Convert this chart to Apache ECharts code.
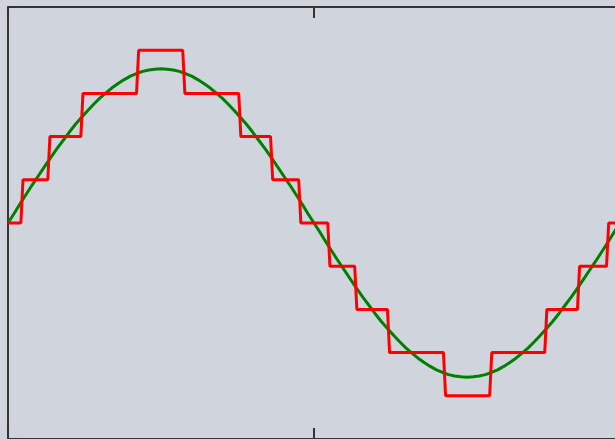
<!DOCTYPE html>
<html>
<head>
<meta charset="utf-8">
<script src="https://cdn.jsdelivr.net/npm/echarts@6/dist/echarts.min.js"></script>
<style>
  html, body { margin: 0; padding: 0; background: #d0d4dc; }
  #chart { width: 615px; height: 439px; }
</style>
</head>
<body>
<div id="chart"></div>
<script>
// Analog signal, sampled every 2 units over one full period (x = 0 .. 200)
const sampleStep = 2;
const analogY = [
  0.00, 0.22, 0.45, 0.67, 0.89, 1.10, 1.31, 1.52, 1.72, 1.91,
  2.10, 2.28, 2.44, 2.60, 2.75, 2.89, 3.01, 3.13, 3.23, 3.32,
  3.40, 3.46, 3.51, 3.54, 3.56, 3.57, 3.56, 3.54, 3.51, 3.46,
  3.40, 3.32, 3.23, 3.13, 3.01, 2.89, 2.75, 2.60, 2.44, 2.28,
  2.10, 1.91, 1.72, 1.52, 1.31, 1.10, 0.89, 0.67, 0.45, 0.22,
  0.00, -0.22, -0.45, -0.67, -0.89, -1.10, -1.31, -1.52, -1.72, -1.91,
  -2.10, -2.28, -2.44, -2.60, -2.75, -2.89, -3.01, -3.13, -3.23, -3.32,
  -3.40, -3.46, -3.51, -3.54, -3.56, -3.57, -3.56, -3.54, -3.51, -3.46,
  -3.40, -3.32, -3.23, -3.13, -3.01, -2.89, -2.75, -2.60, -2.44, -2.28,
  -2.10, -1.91, -1.72, -1.52, -1.31, -1.10, -0.89, -0.67, -0.45, -0.22,
  0.00
];

// Quantized signal: x where each level change begins, and the level after it
const stepX = [4.2, 13.0, 23.8, 42.0, 57.1, 75.4, 85.8, 95.0,
               104.5, 113.3, 124.0, 142.3, 157.4, 175.4, 186.1, 195.6];
const stepLevel = [1, 2, 3, 4, 3, 2, 1, 0, -1, -2, -3, -4, -3, -2, -1, 0];
const startLevel = 0;

// Axis ranges and tick spacing
const xMin = 0, xMax = 200, xTick = 100;
const yMin = -5, yMax = 5, yTick = 5;

const analogData = analogY.map((v, i) => [i * sampleStep, v]);

// Each change is drawn over one short sample interval
const edge = 0.7;
const quantData = [[xMin, startLevel]];
let prev = startLevel;
stepX.forEach((x, i) => {
  quantData.push([x, prev]);
  quantData.push([x + edge, stepLevel[i]]);
  prev = stepLevel[i];
});
quantData.push([xMax, prev]);

const tickStyle = { show: true, inside: true, length: 11, lineStyle: { color: '#333', width: 2 } };
const lineStyleAx = { show: true, onZero: false, lineStyle: { color: '#000', width: 1.5 } };

function xAx(pos) {
  return {
    type: 'value', position: pos, min: xMin, max: xMax, interval: xTick,
    axisLine: lineStyleAx, axisTick: tickStyle,
    axisLabel: { show: false }, splitLine: { show: false }
  };
}
function yAx(pos) {
  return {
    type: 'value', position: pos, min: yMin, max: yMax, interval: yTick,
    axisLine: lineStyleAx, axisTick: tickStyle,
    axisLabel: { show: false }, splitLine: { show: false }
  };
}

const chart = echarts.init(document.getElementById('chart'), null, { renderer: 'canvas' });
chart.setOption({
  animation: false,
  backgroundColor: '#d0d4dc',
  grid: {
    left: 8, top: 7, width: 612, height: 432,
    containLabel: false, outerBoundsMode: 'none'
  },
  xAxis: [xAx('bottom'), xAx('top')],
  yAxis: [yAx('left'), yAx('right')],
  series: [
    {
      type: 'line', data: analogData, xAxisIndex: 0, yAxisIndex: 0,
      showSymbol: false, smooth: false,
      lineStyle: { color: '#008000', width: 3 }
    },
    {
      type: 'line', data: quantData, xAxisIndex: 0, yAxisIndex: 0,
      showSymbol: false,
      lineStyle: { color: '#ff0000', width: 3 }
    }
  ]
});
</script>
</body>
</html>
